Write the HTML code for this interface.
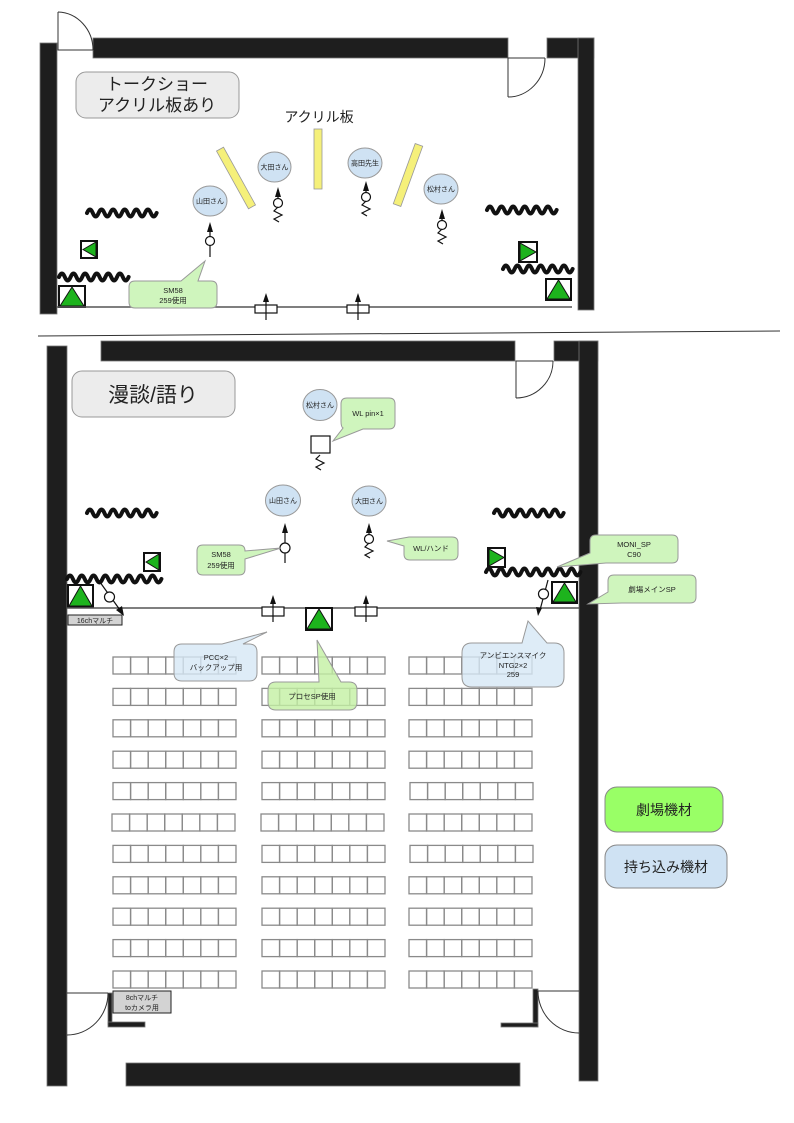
<!DOCTYPE html>
<html><head><meta charset="utf-8"><style>
html,body{margin:0;padding:0;background:#fff;}
svg{display:block;}
text{font-family:"Liberation Sans","Noto Sans CJK JP",sans-serif;fill:#222;}
</style></head><body>
<svg width="794" height="1123" viewBox="0 0 794 1123" xmlns="http://www.w3.org/2000/svg">
<defs>
<path id="w70" d="M0 0 q2.9 -7 5.8 0 t5.8 0 t5.8 0 t5.8 0 t5.8 0 t5.8 0 t5.8 0 t5.8 0 t5.8 0 t5.8 0 t5.8 0 t5.8 0" fill="none" stroke="#111" stroke-width="4" stroke-linecap="round"/>
<path id="w95" d="M0 0 q2.95 -7 5.9 0 t5.9 0 t5.9 0 t5.9 0 t5.9 0 t5.9 0 t5.9 0 t5.9 0 t5.9 0 t5.9 0 t5.9 0 t5.9 0 t5.9 0 t5.9 0 t5.9 0 t5.9 0" fill="none" stroke="#111" stroke-width="4" stroke-linecap="round"/>
<g id="r" fill="none" stroke="#8a8a8a" stroke-width="1.3">
<rect x="0" y="0" width="17.57" height="17"/><rect x="17.57" y="0" width="17.57" height="17"/><rect x="35.14" y="0" width="17.57" height="17"/><rect x="52.71" y="0" width="17.57" height="17"/><rect x="70.28" y="0" width="17.57" height="17"/><rect x="87.85" y="0" width="17.57" height="17"/><rect x="105.42" y="0" width="17.57" height="17"/>
</g>
</defs>

<!-- ================= TOP SECTION ================= -->
<g fill="#1e1e1e" stroke="#777" stroke-width="0.8">
<rect x="40" y="43" width="17" height="271"/>
<rect x="93" y="38" width="415" height="20"/>
<rect x="547" y="38" width="47" height="20"/>
<rect x="578" y="38" width="16" height="272"/>
</g>
<g fill="none" stroke="#333" stroke-width="1">
<path d="M58 12 L58 50 L93 50"/>
<path d="M58 12 A36 38 0 0 1 93 50"/>
<path d="M545 58 L508 58 L508 97"/>
<path d="M545 58 A37 39 0 0 1 508 97"/>
</g>
<rect x="76" y="72" width="163" height="46" rx="10" fill="#ececec" stroke="#999" stroke-width="1"/>
<text x="157" y="90" font-size="17" text-anchor="middle">トークショー</text>
<text x="157" y="111" font-size="17" text-anchor="middle">アクリル板あり</text>
<text x="319" y="122" font-size="14" text-anchor="middle">アクリル板</text>

<g fill="#f5f07a" stroke="#999" stroke-width="0.8">
<rect x="232" y="145" width="8" height="66" transform="rotate(-29 236 178)"/>
<rect x="314" y="129" width="8" height="60"/>
<rect x="404" y="143" width="8" height="64" transform="rotate(20 408 175)"/>
</g>
<g fill="#cfe2f3" stroke="#999" stroke-width="1">
<ellipse cx="274.5" cy="167" rx="16.5" ry="15"/>
<ellipse cx="210" cy="201" rx="17" ry="15"/>
<ellipse cx="365" cy="163" rx="17" ry="15"/>
<ellipse cx="441" cy="189" rx="17" ry="15"/>
</g>
<g font-size="7" text-anchor="middle">
<text x="274.5" y="169.5">大田さん</text>
<text x="210" y="203.5">山田さん</text>
<text x="365" y="165.5">高田先生</text>
<text x="441" y="191.5">松村さん</text>
</g>
<g stroke="#111" stroke-width="1.2" fill="none">
<line x1="210" y1="228" x2="210" y2="257"/>
<circle cx="210" cy="241" r="4.5" fill="#fff"/>
<line x1="278" y1="193" x2="278" y2="203"/>
<circle cx="278" cy="203" r="4.5" fill="#fff"/>
<polyline points="278,207 274,211 282,215 274,219 279,222"/>
<line x1="366" y1="187" x2="366" y2="197"/>
<circle cx="366" cy="197" r="4.5" fill="#fff"/>
<polyline points="366,201 362,205 370,209 362,213 367,216"/>
<line x1="442" y1="215" x2="442" y2="225"/>
<circle cx="442" cy="225" r="4.5" fill="#fff"/>
<polyline points="442,229 438,233 446,237 438,241 443,244"/>
</g>
<g fill="#111">
<polygon points="210,222 207,232 213,232"/>
<polygon points="278,187 275,197 281,197"/>
<polygon points="366,181 363,191 369,191"/>
<polygon points="442,209 439,219 445,219"/>
</g>
<use href="#w70" x="87" y="213"/>
<use href="#w70" x="59" y="277"/>
<use href="#w70" x="487" y="210"/>
<use href="#w70" x="503" y="269"/>
<rect x="81" y="241" width="16" height="17" fill="#fff" stroke="#111" stroke-width="2"/>
<polygon points="83,249.5 96,242 96,257" fill="#1db31d" stroke="#111" stroke-width="1"/>
<rect x="59" y="286" width="26" height="21" fill="#fff" stroke="#111" stroke-width="2"/>
<polygon points="60,306 84,306 72,287" fill="#1db31d" stroke="#111" stroke-width="1"/>
<rect x="519" y="242" width="18" height="20" fill="#fff" stroke="#111" stroke-width="2"/>
<polygon points="520,243 520,261 536,252" fill="#1db31d" stroke="#111" stroke-width="1"/>
<rect x="546" y="279" width="25" height="21" fill="#fff" stroke="#111" stroke-width="2"/>
<polygon points="547,299 570,299 558.5,280" fill="#1db31d" stroke="#111" stroke-width="1"/>
<line x1="57" y1="307" x2="572" y2="307" stroke="#555" stroke-width="1.5"/>
<g stroke="#111" stroke-width="1.2">
<rect x="255" y="305" width="22" height="8" fill="#fff"/>
<line x1="266" y1="299" x2="266" y2="320"/>
<rect x="347" y="305" width="22" height="8" fill="#fff"/>
<line x1="358" y1="299" x2="358" y2="320"/>
</g>
<polygon points="266,293 263,302 269,302" fill="#111"/>
<polygon points="358,293 355,302 361,302" fill="#111"/>
<path d="M135 281 L181 281 L205 261 L198 281 L211 281 Q217 281 217 287 L217 302 Q217 308 211 308 L135 308 Q129 308 129 302 L129 287 Q129 281 135 281 Z" fill="#cff5bd" stroke="#999" stroke-width="1"/>
<text x="173" y="293" font-size="7.5" text-anchor="middle">SM58</text>
<text x="173" y="303" font-size="7.5" text-anchor="middle">259使用</text>

<line x1="38" y1="336" x2="780" y2="331" stroke="#333" stroke-width="1"/>

<!-- ================= BOTTOM SECTION ================= -->
<g fill="#1e1e1e" stroke="#777" stroke-width="0.8">
<rect x="47" y="346" width="20" height="740"/>
<rect x="101" y="341" width="414" height="20"/>
<rect x="554" y="341" width="44" height="20"/>
<rect x="579" y="341" width="19" height="740"/>
<rect x="126" y="1063" width="394" height="23"/>
<rect x="108" y="993" width="4" height="32"/>
<rect x="108" y="1022" width="37" height="5"/>
<rect x="533" y="989" width="5" height="38"/>
<rect x="501" y="1023" width="37" height="4"/>
</g>
<g fill="none" stroke="#333" stroke-width="1">
<path d="M553 361 L516 361 L516 398"/>
<path d="M553 361 A37 37 0 0 1 516 398"/>
<path d="M67 993 L108 993"/>
<path d="M108 993 A41 42 0 0 1 67 1035"/>
<path d="M579 991 L538 991"/>
<path d="M538 991 A41 42 0 0 0 579 1033"/>
</g>

<rect x="72" y="371" width="163" height="46" rx="10" fill="#ececec" stroke="#999" stroke-width="1"/>
<text x="153" y="402" font-size="21" text-anchor="middle">漫談/語り</text>

<g fill="#cfe2f3" stroke="#999" stroke-width="1">
<ellipse cx="320" cy="405" rx="17" ry="15.5"/>
<ellipse cx="283" cy="500.5" rx="17.5" ry="15.5"/>
<ellipse cx="369" cy="501" rx="17" ry="15"/>
</g>
<g font-size="7" text-anchor="middle">
<text x="320" y="407.5">松村さん</text>
<text x="283" y="503">山田さん</text>
<text x="369" y="503.5">大田さん</text>
</g>

<path d="M347 398 L389 398 Q395 398 395 404 L395 423 Q395 429 389 429 L363 429 L333 441 L343 428 Q341 427 341 421 L341 404 Q341 398 347 398 Z" fill="#cff5bd" stroke="#999" stroke-width="1"/>
<text x="368" y="416" font-size="7.5" text-anchor="middle">WL pin×1</text>
<rect x="311" y="436" width="19" height="17" fill="#fff" stroke="#111" stroke-width="1.2"/>
<polyline points="320,455 316,459 324,463 316,467 321,470" fill="none" stroke="#111" stroke-width="1.2"/>

<g stroke="#111" stroke-width="1.2" fill="none">
<line x1="285" y1="529" x2="285" y2="563"/>
<circle cx="285" cy="548" r="5" fill="#fff"/>
<line x1="369" y1="529" x2="369" y2="539"/>
<circle cx="369" cy="539" r="4.5" fill="#fff"/>
<polyline points="369,543 365,547 373,551 365,555 370,558"/>
</g>
<polygon points="285,523 282,533 288,533" fill="#111"/>
<polygon points="369,523 366,533 372,533" fill="#111"/>

<path d="M203 545 L239 545 Q245 545 245 551 L281 548 L245 559 L245 569 Q245 575 239 575 L203 575 Q197 575 197 569 L197 551 Q197 545 203 545 Z" fill="#cff5bd" stroke="#999" stroke-width="1"/>
<text x="221" y="557" font-size="7.5" text-anchor="middle">SM58</text>
<text x="221" y="568" font-size="7.5" text-anchor="middle">259使用</text>

<path d="M410 537 L452 537 Q458 537 458 543 L458 554 Q458 560 452 560 L410 560 Q404 560 404 554 L404 546 L387 541 L409 537 Z" fill="#cff5bd" stroke="#999" stroke-width="1"/>
<text x="431" y="551" font-size="7.5" text-anchor="middle">WL/ハンド</text>

<use href="#w70" x="87" y="513"/>
<use href="#w70" x="494" y="513"/>
<use href="#w95" x="67" y="579"/>
<use href="#w95" x="486" y="572"/>

<rect x="144" y="553" width="16" height="18" fill="#fff" stroke="#111" stroke-width="2"/>
<polygon points="146,562 159,554 159,570" fill="#1db31d" stroke="#111" stroke-width="1"/>
<rect x="488" y="548" width="17" height="19" fill="#fff" stroke="#111" stroke-width="2"/>
<polygon points="489,549 489,566 504,557.5" fill="#1db31d" stroke="#111" stroke-width="1"/>
<rect x="68" y="585" width="25" height="22" fill="#fff" stroke="#111" stroke-width="2"/>
<polygon points="69,606 92,606 80.5,586" fill="#1db31d" stroke="#111" stroke-width="1"/>
<rect x="552" y="582" width="25" height="21" fill="#fff" stroke="#111" stroke-width="2"/>
<polygon points="553,602 576,602 564.5,583" fill="#1db31d" stroke="#111" stroke-width="1"/>

<line x1="67" y1="608" x2="579" y2="608" stroke="#555" stroke-width="1.5"/>
<rect x="306" y="608" width="26" height="22" fill="#fff" stroke="#111" stroke-width="2"/>
<polygon points="307,629 331,629 319,609" fill="#1db31d" stroke="#111" stroke-width="1"/>
<g stroke="#111" stroke-width="1.2">
<rect x="262" y="607" width="22" height="9" fill="#fff"/>
<line x1="273" y1="601" x2="273" y2="622"/>
<rect x="355" y="607" width="22" height="9" fill="#fff"/>
<line x1="366" y1="601" x2="366" y2="622"/>
</g>
<polygon points="273,595 270,604 276,604" fill="#111"/>
<polygon points="366,595 363,604 369,604" fill="#111"/>

<g stroke="#111" stroke-width="1.2" fill="none">
<line x1="97" y1="578" x2="120" y2="610"/>
<circle cx="109.5" cy="597" r="5" fill="#fff"/>
<line x1="548" y1="580" x2="540" y2="610"/>
<circle cx="543.5" cy="594" r="5" fill="#fff"/>
</g>
<polygon points="124,616 116,610 122,606" fill="#111"/>
<polygon points="538,616 536,607 542,608" fill="#111"/>

<rect x="68" y="615" width="54" height="10" fill="#d3d3d3" stroke="#222" stroke-width="1"/>
<text x="95" y="623" font-size="7" text-anchor="middle">16chマルチ</text>

<path d="M596 535 L672 535 Q678 535 678 541 L678 557 Q678 563 672 563 L606 563 L557 567 L590 553 L590 541 Q590 535 596 535 Z" fill="#cff5bd" stroke="#999" stroke-width="1"/>
<text x="634" y="547" font-size="7.5" text-anchor="middle">MONI_SP</text>
<text x="634" y="557" font-size="7.5" text-anchor="middle">C90</text>
<path d="M614 575 L690 575 Q696 575 696 581 L696 597 Q696 603 690 603 L622 603 L588 604 L608 592 L608 581 Q608 575 614 575 Z" fill="#cff5bd" stroke="#999" stroke-width="1"/>
<text x="652" y="592" font-size="7.5" text-anchor="middle">劇場メインSP</text>

<use href="#r" x="113" y="657"/><use href="#r" x="262" y="657"/><use href="#r" x="409" y="657"/>
<use href="#r" x="113" y="688.4"/><use href="#r" x="262" y="688.4"/><use href="#r" x="409" y="688.4"/>
<use href="#r" x="113" y="719.8"/><use href="#r" x="262" y="719.8"/><use href="#r" x="409" y="719.8"/>
<use href="#r" x="113" y="751.2"/><use href="#r" x="262" y="751.2"/><use href="#r" x="409" y="751.2"/>
<use href="#r" x="113" y="782.6"/><use href="#r" x="262" y="782.6"/><use href="#r" x="410" y="782.6"/>
<use href="#r" x="112" y="814"/><use href="#r" x="261" y="814"/><use href="#r" x="409" y="814"/>
<use href="#r" x="113" y="845.4"/><use href="#r" x="262" y="845.4"/><use href="#r" x="410" y="845.4"/>
<use href="#r" x="113" y="876.8"/><use href="#r" x="262" y="876.8"/><use href="#r" x="409" y="876.8"/>
<use href="#r" x="113" y="908.2"/><use href="#r" x="262" y="908.2"/><use href="#r" x="409" y="908.2"/>
<use href="#r" x="113" y="939.6"/><use href="#r" x="262" y="939.6"/><use href="#r" x="409" y="939.6"/>
<use href="#r" x="113" y="971"/><use href="#r" x="262" y="971"/><use href="#r" x="409" y="971"/>

<path d="M182 644 L222 644 L267 632 L243 644 L249 644 Q257 644 257 652 L257 673 Q257 681 249 681 L182 681 Q174 681 174 673 L174 652 Q174 644 182 644 Z" fill="#d6e7f5" fill-opacity="0.8" stroke="#999" stroke-width="1"/>
<text x="216" y="660" font-size="7.5" text-anchor="middle">PCC×2</text>
<text x="216" y="670" font-size="7.5" text-anchor="middle">バックアップ用</text>
<path d="M276 682 L319 682 L317 640 L341 682 L349 682 Q357 682 357 690 L357 702 Q357 710 349 710 L276 710 Q268 710 268 702 L268 690 Q268 682 276 682 Z" fill="#c3f0a3" fill-opacity="0.8" stroke="#999" stroke-width="1"/>
<text x="312" y="699" font-size="7.5" text-anchor="middle">プロセSP使用</text>
<path d="M472 643 L522 643 L528 621 L547 643 L554 643 Q564 643 564 653 L564 677 Q564 687 554 687 L472 687 Q462 687 462 677 L462 653 Q462 643 472 643 Z" fill="#d6e7f5" fill-opacity="0.8" stroke="#999" stroke-width="1"/>
<text x="513" y="658" font-size="7.5" text-anchor="middle">アンビエンスマイク</text>
<text x="513" y="668" font-size="7.5" text-anchor="middle">NTG2×2</text>
<text x="513" y="677" font-size="7.5" text-anchor="middle">259</text>

<rect x="113" y="991" width="58" height="22" fill="#d3d3d3" stroke="#222" stroke-width="1"/>
<text x="142" y="1000" font-size="7" text-anchor="middle">8chマルチ</text>
<text x="142" y="1010" font-size="7" text-anchor="middle">toカメラ用</text>

<rect x="605" y="787" width="118" height="45" rx="12" fill="#99ff66" stroke="#888" stroke-width="1"/>
<text x="664" y="815" font-size="14" text-anchor="middle">劇場機材</text>
<rect x="605" y="845" width="122" height="43" rx="12" fill="#cfe2f3" stroke="#888" stroke-width="1"/>
<text x="666" y="872" font-size="14" text-anchor="middle">持ち込み機材</text>
</svg>
</body></html>
